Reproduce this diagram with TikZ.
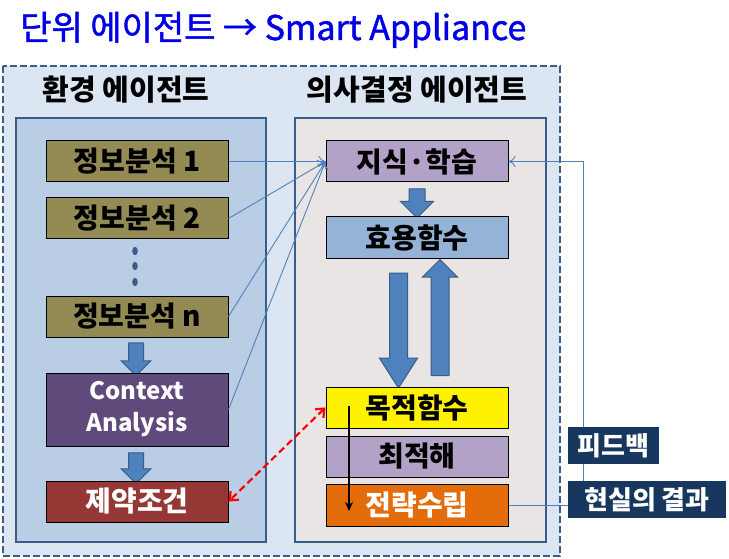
\documentclass[tikz,border=0pt]{standalone}
\usepackage{fontspec}
\setmainfont{Noto Sans CJK KR}
\newfontfamily\titlefont{Noto Sans CJK KR}[FakeBold=1.3]
\usetikzlibrary{shapes.arrows,arrows.meta}
\definecolor{titleblue}{HTML}{0000E6}
\definecolor{outerfill}{HTML}{DCE6F2}
\definecolor{frame}{HTML}{385D8A}
\definecolor{envfill}{HTML}{B9CDE5}
\definecolor{decfill}{HTML}{E9E5E4}
\definecolor{olive}{HTML}{948A54}
\definecolor{ctxpurple}{HTML}{604A7B}
\definecolor{darkred}{HTML}{953735}
\definecolor{lavender}{HTML}{B3A2C7}
\definecolor{utilblue}{HTML}{95B3D7}
\definecolor{stratorange}{HTML}{E46C0A}
\definecolor{navy}{HTML}{17375E}
\definecolor{arrowfill}{HTML}{4F81BD}
\begin{document}
\begin{tikzpicture}[x=1pt,y=-1pt]
\tikzstyle{box} = [draw=black, line width=1pt, minimum width=182pt, minimum height=41pt, inner sep=0, font=\fontsize{28}{32}\selectfont\bfseries]
\tikzstyle{tag} = [fill=navy, text=white, inner sep=0, minimum height=37pt, font=\fontsize{26}{30}\selectfont\bfseries]
\tikzstyle{bigarrow} = [single arrow, draw=frame, fill=arrowfill, line width=1pt, inner xsep=0, rotate=-90]
\tikzstyle{feed} = [-{To[length=7pt,width=11pt]}, draw=arrowfill, line width=0.9pt]
\tikzstyle{heading} = [font=\fontsize{29}{32}\selectfont\bfseries]

\useasboundingbox (0,0) rectangle (729,559);

\node [anchor=base west, text=titleblue, inner sep=0, font=\fontsize{34}{38}\titlefont] (title) at (20,40) {단위 에이전트 → Smart Appliance};

\draw [fill=outerfill, draw=frame, line width=2.5pt, dash pattern=on 7pt off 3pt] (3,66) rectangle (560,556);
\node [heading] (envhead) at (126,90) {환경 에이전트};
\node [heading] (dechead) at (417,90) {의사결정 에이전트};
\draw [fill=envfill, draw=frame, line width=2.5pt] (16,118) rectangle (266,542);
\draw [fill=decfill, draw=frame, line width=2.5pt] (295,118) rectangle (546,542);

% 환경 에이전트
\node [box, fill=olive] (info1) at (137,161.5) {정보분석 1};
\node [box, fill=olive] (info2) at (137,218.5) {정보분석 2};
\foreach \y in {251,266,282}
	{
		\fill [frame] (135,\y) ellipse (2.8pt and 4.2pt);
	}
\node [box, fill=olive] (infon) at (137,316.5) {정보분석 n};
\node [bigarrow, minimum height=33pt, inner ysep=7pt, single arrow head extend=7.5pt] (arrA) at (136,355.5) {};
\node [box, fill=ctxpurple, text=white, minimum height=73pt, align=center, font=\fontsize{24}{32}\selectfont\bfseries] (context) at (137,409.5) {Context\\Analysis};
\node [bigarrow, minimum height=31pt, inner ysep=7pt, single arrow head extend=7.5pt] (arrB) at (136,464.5) {};
\node [box, fill=darkred, text=white] (constr) at (137,501.5) {제약조건};

% 의사결정 에이전트
\node [box, fill=lavender] (know) at (417,161.5) {지식·학습};
\node [bigarrow, minimum height=29pt, inner ysep=7.5pt, single arrow head extend=8.5pt] (arrC) at (417,199.5) {};
\node [box, fill=utilblue] (util) at (417,237.5) {효용함수};
\node [bigarrow, minimum height=115pt, inner ysep=8.5pt, single arrow head extend=10pt, single arrow tip angle=65] (arrdown) at (398.5,323.5) {};
\node [bigarrow, minimum height=116pt, inner ysep=8.5pt, single arrow head extend=8.5pt, rotate=180] (arrup) at (440,322) {};
\node [box, fill=yellow] (goal) at (417,407.5) {목적함수};
\node [box, fill=lavender] (opt) at (417,456.5) {최적해};
\node [box, fill=stratorange, text=white, minimum height=42pt] (strat) at (417,505) {전략수립};

\coordinate (gtop) at (349,406);
\coordinate (sbot) at (349,511);
\draw [-{Stealth[length=9pt,width=8pt]}, line width=1.6pt] (gtop) -- (sbot);
\draw [{Straight Barb[length=7pt,width=12pt]}-{Straight Barb[length=7pt,width=12pt]}, red, line width=2.2pt, dash pattern=on 7pt off 4pt] (goal.west) -- (constr.east);

\foreach \src in {info1,info2,infon,context}
	{
		\draw [feed] (\src.east) -- (know.west);
	}

% 피드백
\node [tag, minimum width=158pt] (result) at (647,499.5) {현실의 결과};
\coordinate (fbfoot) at (583,481);
\draw [feed] (fbfoot) |- (know.east);
\draw [draw=arrowfill, line width=0.9pt] (strat.east) -- (strat.east -| result.west);
\node [tag, minimum width=91pt] (fback) at (613.5,445.5) {피드백};
\end{tikzpicture}
\end{document}
